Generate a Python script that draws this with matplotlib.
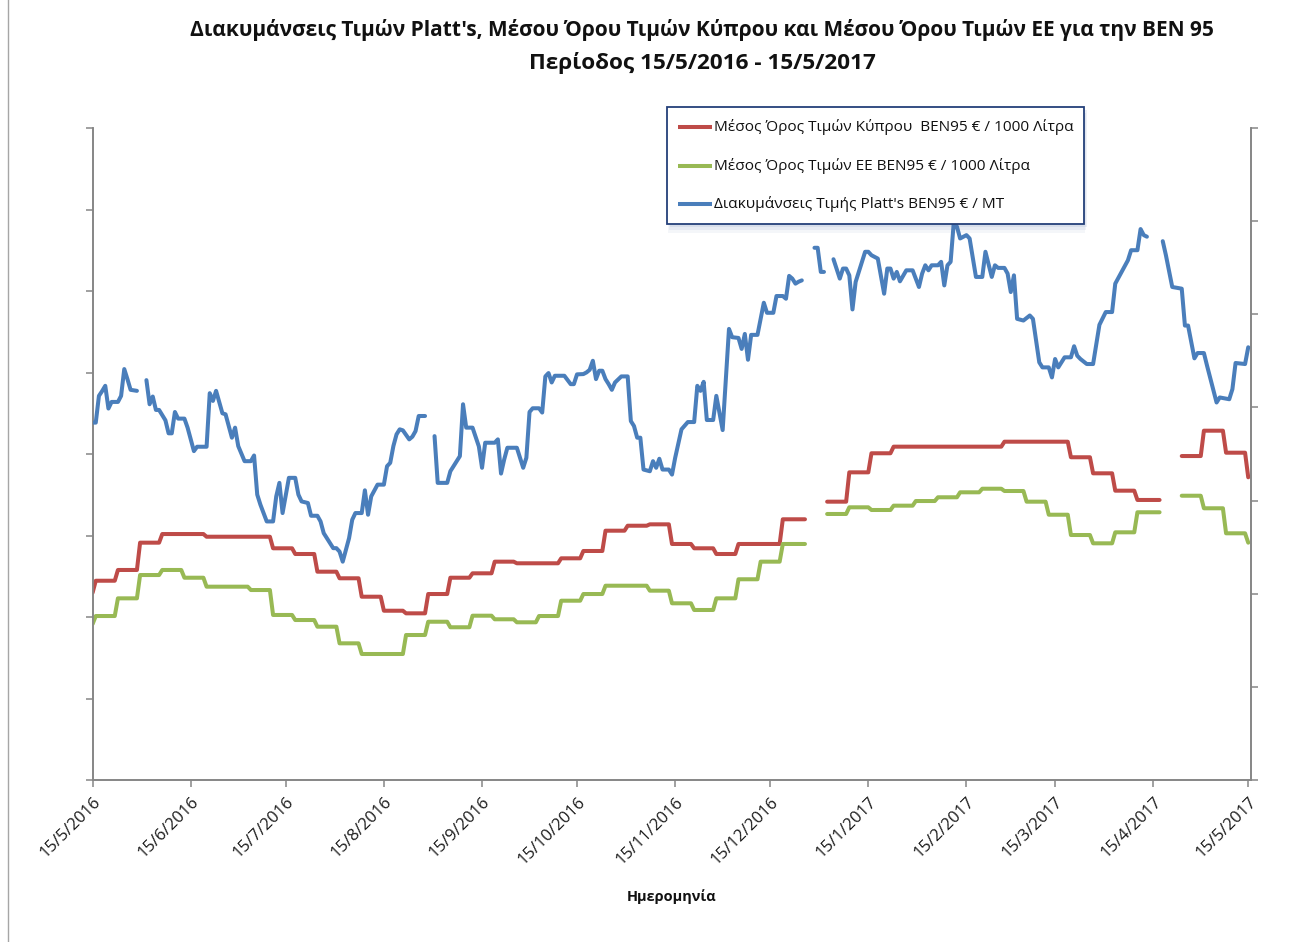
import numpy as np
import pandas as pd
import matplotlib
matplotlib.use("Agg")
import matplotlib.pyplot as plt
import matplotlib.dates as mdates
from matplotlib.lines import Line2D
from matplotlib.patches import Rectangle
from matplotlib.ticker import FuncFormatter

# ---------------- data ----------------
start_date = "2016-05-15"
axis_end_date = "2017-05-16"
n_days = 366

title_line1 = "Διακυμάνσεις Τιμών Platt's, Μέσου Όρου Τιμών Κύπρου και Μέσου Όρου Τιμών ΕΕ για την ΒΕΝ 95"
title_line2 = "Περίοδος 15/5/2016 - 15/5/2017"
x_label = "Ημερομηνία"
series_names = [
    "Μέσος Όρος Τιμών Κύπρου  ΒΕΝ95 € / 1000 Λίτρα",
    "Μέσος Όρος Τιμών ΕΕ ΒΕΝ95 € / 1000 Λίτρα",
    "Διακυμάνσεις Τιμής Platt's ΒΕΝ95 € / ΜΤ",
]

# weekly averages (value on 15/5/2016, then one value per week starting each Monday)
cyprus_first = 229.8
cyprus_weekly = [
    244.5, 257.7, 291.2, 301.8, 301.8, 298.5, 298.5, 298.5, 284.3, 277.3,
    255.6, 247.5, 224.9, 207.7, 204.5, 228.2, 248.2, 253.6, 267.9, 265.9,
    265.9, 272.0, 281.0, 305.9, 312.0, 313.7, 289.6, 284.3, 277.3, 289.6,
    289.6, 319.9, 319.9, 341.5, 377.5, 400.9, 409.0, 409.0, 409.0, 409.0,
    409.0, 415.1, 415.1, 415.1, 396.0, 376.3, 355.0, 343.6, 343.6, 397.5,
    428.6, 401.6, 371.4,
]
eu_first = 191.4
eu_weekly = [
    201.2, 222.9, 251.5, 257.7, 248.2, 237.2, 237.2, 233.1, 202.5, 196.3,
    188.1, 167.7, 154.6, 154.6, 177.9, 194.2, 187.4, 201.6, 197.2, 193.5,
    201.2, 220.0, 228.2, 238.4, 238.4, 232.3, 216.8, 208.6, 222.9, 246.3,
    267.9, 289.6, 289.6, 326.4, 334.6, 331.3, 336.6, 342.3, 346.9, 353.0,
    357.4, 354.6, 341.5, 325.5, 300.6, 290.4, 303.9, 328.5, 328.5, 348.8,
    333.4, 302.7, 291.2,
]
# holiday periods without weekly data (day offsets, inclusive)
missing_days = [(226, 231), (338, 343)]

# Platt's quotations (day offset from 15/5/2016, value); NaN = no quotation
platts_day = [
    0, 1, 2, 3, 4, 5, 6, 8, 9, 10, 11, 12, 14, 15.5,
    17, 18, 19, 20, 21, 23, 24, 25, 26, 27, 29, 30, 31, 32, 33, 36, 37, 38, 39,
    41, 42, 44, 45, 46, 48, 50, 51, 52, 53, 55, 57, 58, 59, 60, 62, 64, 65, 66,
    68, 69, 71, 72, 73, 74, 76, 77, 78, 79, 80, 81, 82, 83, 85, 86, 87, 88, 90,
    92, 93, 94, 95, 96, 97, 98, 100, 101, 102, 103, 105, 106.5,
    108, 109, 112, 113, 116, 117, 118, 120, 122, 123, 124, 127, 128, 129, 130,
    131, 134, 136, 137, 138, 139, 141, 142, 143, 144, 145, 146, 149, 151, 152,
    153, 155, 156, 157, 158, 159, 160, 161, 162, 163, 164, 165, 167, 169, 170,
    171, 172, 173, 174, 176, 177, 178, 179, 180, 182, 183, 184, 186, 188, 190,
    191, 192, 193, 194, 196, 197, 199, 201, 202, 204, 205, 206, 207, 208, 210,
    212, 213, 215, 216, 218, 219, 220, 221, 222, 223, 224, 226,
    228, 229, 230, 231, 232.5,
    234, 236, 237, 238, 239, 240, 241, 242, 244, 245, 246, 248, 250, 251, 252,
    253, 254, 255, 257, 259, 261, 262, 263, 264, 265, 267, 268, 269, 270, 271,
    272, 273, 274, 276, 277, 279, 281, 282, 284, 285, 286, 288, 289, 290, 291,
    292, 294, 296, 297, 299, 300, 302, 303, 304, 305, 307, 309, 310, 311, 312,
    314, 316, 318, 320, 322, 323, 325, 327, 328, 330, 331, 332, 333, 335,
    338, 339, 341, 344, 345, 346, 348, 349, 351, 352, 355, 356, 359, 360, 361,
    364, 365,
]
platts_val = [
    383.7, 383.7, 412.4, 417.5, 423.2, 398.8, 405.9, 405.9, 412.4, 441.2, 430.4, 418.9, 417.8, np.nan,
    429.3, 403.4, 411.7, 397.3, 397.3, 386.2, 372.2, 372.2, 395.1, 388.0, 388.0, 378.3, 365.7, 353.1, 357.8, 357.8, 415.3, 407.0, 417.8,
    393.7, 392.6, 367.5, 378.3, 358.5, 342.3, 342.3, 348.4, 306.4, 295.6, 277.6, 277.6, 304.5, 319.0, 286.6, 324.4, 324.4, 306.4, 299.1,
    297.4, 283.7, 283.7, 277.6, 265.0, 259.6, 248.9, 248.9, 245.2, 234.4, 247.0, 259.6, 279.4, 286.6, 286.6, 311.0, 284.8, 304.5, 317.1,
    317.1, 336.9, 340.5, 358.5, 371.1, 376.5, 375.4, 365.7, 368.6, 374.6, 390.8, 390.8, np.nan,
    369.2, 319.0, 319.0, 331.5, 347.7, 403.4, 378.3, 378.3, 358.1, 335.2, 362.1, 362.1, 365.7, 329.0, 344.1,
    356.7, 356.7, 335.2, 345.9, 395.1, 399.1, 399.1, 394.5, 433.3, 436.9, 426.8, 434.0, 434.0, 425.0, 425.0,
    435.5, 435.8, 437.6, 440.4, 450.1, 430.4, 439.4, 439.4, 430.4, 425.0, 418.9, 426.8, 433.3, 433.3, 385.4,
    380.0, 367.5, 367.5, 333.3, 331.5, 342.3, 335.2, 344.9, 333.3, 333.3, 327.9, 345.9, 376.5, 384.3, 384.3,
    423.2, 417.8, 427.5, 386.5, 386.5, 412.4, 375.7, 484.3, 475.4, 474.6, 462.8, 478.9, 451.2, 477.9, 477.9,
    512.4, 501.6, 501.6, 519.6, 519.6, 516.7, 541.2, 538.3, 532.9, 535.0, 536.4, np.nan,
    571.4, 571.4, 545.5, 545.5, np.nan,
    559.1, 538.3, 549.1, 549.1, 541.8, 505.2, 534.7, 545.5, 567.1, 567.1, 563.4, 559.8, 522.1, 549.1, 549.1,
    538.3, 545.5, 535.4, 547.2, 547.2, 529.3, 543.7, 552.6, 547.2, 552.6, 552.6, 556.3, 531.0, 552.6, 556.3,
    598.7, 594.0, 581.4, 585.0, 581.4, 540.1, 540.1, 567.1, 540.1, 552.6, 549.8, 549.8, 543.7, 523.9, 541.8,
    495.1, 493.3, 498.7, 495.1, 448.4, 443.0, 443.0, 432.2, 452.0, 443.0, 453.8, 453.8, 465.7, 455.5, 452.0,
    446.6, 446.6, 488.7, 502.4, 502.4, 532.9, 545.5, 558.0, 568.8, 568.8, 591.5, 585.0, 583.3, np.nan,
    578.5, 563.4, 529.3, 527.5, 487.9, 487.9, 452.7, 458.4, 458.4, 444.7, 405.3, 410.7, 408.8, 419.6, 447.7,
    446.6, 464.6,
]

# ---------------- build daily series ----------------
day_idx = np.arange(n_days)
dates = pd.Timestamp(start_date) + pd.to_timedelta(day_idx, unit="D")


def weekly_to_daily(first, weekly):
    vals = np.empty(n_days)
    vals[0] = first
    vals[1:] = np.asarray(weekly)[(day_idx[1:] - 1) // 7]
    for a, b in missing_days:
        vals[a:b + 1] = np.nan
    return vals


cyprus = weekly_to_daily(cyprus_first, cyprus_weekly)
eu = weekly_to_daily(eu_first, eu_weekly)
platts_dates = pd.Timestamp(start_date) + pd.to_timedelta(np.asarray(platts_day, float), unit="D")
platts = np.asarray(platts_val, float)

# ---------------- figure ----------------
W, H = 1309, 942
fig = plt.figure(figsize=(W / 100, H / 100), dpi=100)
plt.rcParams["font.family"] = ["Open Sans", "DejaVu Sans"]

RED = "#BE4B48"
GREEN = "#98B954"
BLUE = "#4A7EBB"
AXC = "#868686"


def fx(px):
    return px / W


def fy(py):
    return 1 - py / H


left_px, right_px, top_px, bottom_px = 92.6, 1251.4, 128, 780
ax = fig.add_axes([fx(left_px), fy(bottom_px), fx(right_px - left_px), (bottom_px - top_px) / H])
ax2 = ax.twinx()

lw = 2.9
ax.plot(dates, cyprus, color=RED, lw=lw, solid_joinstyle="round", solid_capstyle="round", zorder=3)
ax.plot(dates, eu, color=GREEN, lw=lw, solid_joinstyle="round", solid_capstyle="round", zorder=3)
ax2.plot(platts_dates, platts, color=BLUE, lw=lw, solid_joinstyle="round", solid_capstyle="round", zorder=3)

ax.set_xlim(pd.Timestamp(start_date), pd.Timestamp(axis_end_date))
ax.set_ylim(0, 800)
ax.set_yticks(np.arange(0, 801, 100))
ax2.set_ylim(0, 700)
ax2.set_yticks(np.arange(0, 701, 100))
ax.yaxis.set_major_formatter(FuncFormatter(lambda v, p: ""))
ax2.yaxis.set_major_formatter(FuncFormatter(lambda v, p: ""))

ax.xaxis.set_major_locator(mdates.MonthLocator(bymonthday=15))


def date_fmt(v, pos):
    d = mdates.num2date(v)
    return f"{d.day}/{d.month}/{d.year}"


ax.xaxis.set_major_formatter(FuncFormatter(date_fmt))

for a in (ax, ax2):
    a.set_facecolor("none")
    a.spines["top"].set_visible(False)
    for s in ("left", "right", "bottom"):
        a.spines[s].set_color(AXC)
        a.spines[s].set_linewidth(1.2)
    a.tick_params(axis="both", direction="out", length=5, width=1.1, color=AXC)

ax.tick_params(axis="x", pad=5, labelsize=12, labelcolor="#1a1a1a")
for lab in ax.get_xticklabels():
    lab.set_rotation(45)
    lab.set_ha("right")
    lab.set_rotation_mode("anchor")
    lab.set_va("top")

# chart-area outline (left edge visible in the screenshot)
fig.add_artist(Line2D([fx(8), fx(8)], [0, 1], transform=fig.transFigure, color="#A6A6A6", lw=1.0))

# titles
r = fig.canvas.get_renderer()


def fit(t, target_w):
    w = t.get_window_extent(r).width
    t.set_fontsize(t.get_fontsize() * target_w / w)


t1 = fig.text(fx(702), fy(30), title_line1, ha="center", va="center", fontsize=14, fontweight="bold", color="#111111")
fit(t1, 1028)
t2 = fig.text(fx(702), fy(63), title_line2, ha="center", va="center", fontsize=14, fontweight="bold", color="#111111")
fit(t2, 348)
xl = fig.text(fx(672), fy(897), x_label, ha="center", va="center", fontsize=10, fontweight="bold", color="#111111")
fit(xl, 90)

# legend
lx0, lx1, ly0, ly1 = 667, 1084, 107, 224
for i, (dx, dy, al) in enumerate([(3, 3, 0.10), (2, 6, 0.08), (1, 9, 0.06)]):
    fig.patches.append(Rectangle((fx(lx0 + dx), fy(ly1 + dy)), fx(lx1 - lx0), (ly1 - ly0) / H,
                                 transform=fig.transFigure, facecolor="#4F6FA8", edgecolor="none",
                                 alpha=al, zorder=4))
fig.patches.append(Rectangle((fx(lx0), fy(ly1)), fx(lx1 - lx0), (ly1 - ly0) / H,
                             transform=fig.transFigure, facecolor="white", edgecolor="#24407A",
                             lw=1.3, zorder=5))
rows = [127, 166, 204]
colors = [RED, GREEN, BLUE]
for yrow, c, name in zip(rows, colors, series_names):
    fig.add_artist(Line2D([fx(678), fx(712)], [fy(yrow), fy(yrow)], transform=fig.transFigure,
                          color=c, lw=lw, solid_capstyle="butt", zorder=6))
    t = fig.text(fx(714), fy(yrow), name, ha="left", va="center", fontsize=10.5, color="#111111", zorder=6)
    if yrow == rows[0]:
        fit(t, 361)
        leg_fs = t.get_fontsize()
    else:
        t.set_fontsize(leg_fs)

fig.savefig("out.png", dpi=100)
